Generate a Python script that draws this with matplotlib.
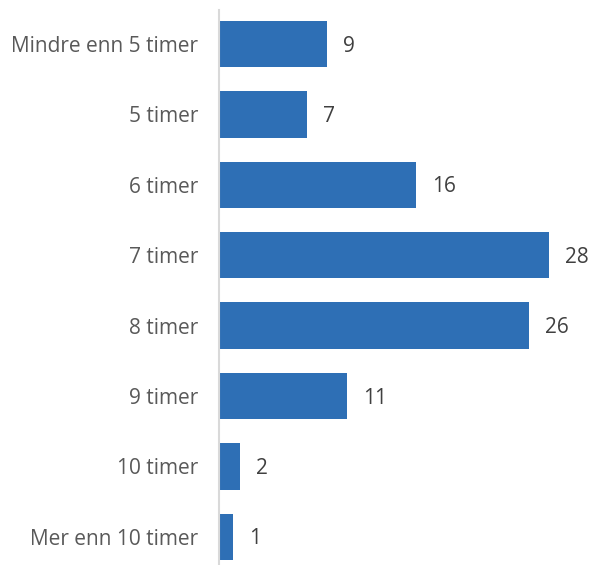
import matplotlib
matplotlib.use("Agg")
import matplotlib.pyplot as plt

categories = ["Mindre enn 5 timer", "5 timer", "6 timer", "7 timer", "8 timer",
              "9 timer", "10 timer", "Mer enn 10 timer"]
values = [9.02, 7.38, 16.43, 27.59, 25.92, 10.67, 1.78, 1.17]
labels = ["9", "7", "16", "28", "26", "11", "2", "1"]

plt.rcParams['font.family'] = ['Open Sans', 'DejaVu Sans']

fig = plt.figure(figsize=(6.04, 5.65), dpi=100)
ax = fig.add_axes([219/604, 0, (604-219)/604, 555/565])

y = list(range(len(categories)))
ax.barh(y, values, height=0.659, color="#2e6fb5", zorder=2)
ax.set_ylim(7.40, -0.483)
ax.set_xlim(0, 385/11.97)
ax.set_yticks(y)
ax.set_yticklabels(categories, fontsize=15, color="#595959")
ax.tick_params(axis='y', length=0, pad=15)
ax.set_xticks([])
for s in ["top", "right", "bottom"]:
    ax.spines[s].set_visible(False)
ax.spines["left"].set_color("#d9d9d9")
ax.spines["left"].set_linewidth(1.5)

for yi, v, t in zip(y, values, labels):
    ax.annotate(t, (v, yi), xytext=(11.5, -1.5), textcoords="offset points",
                va="center", ha="left", fontsize=15, color="#404040")

fig.savefig("out.png", dpi=100)
